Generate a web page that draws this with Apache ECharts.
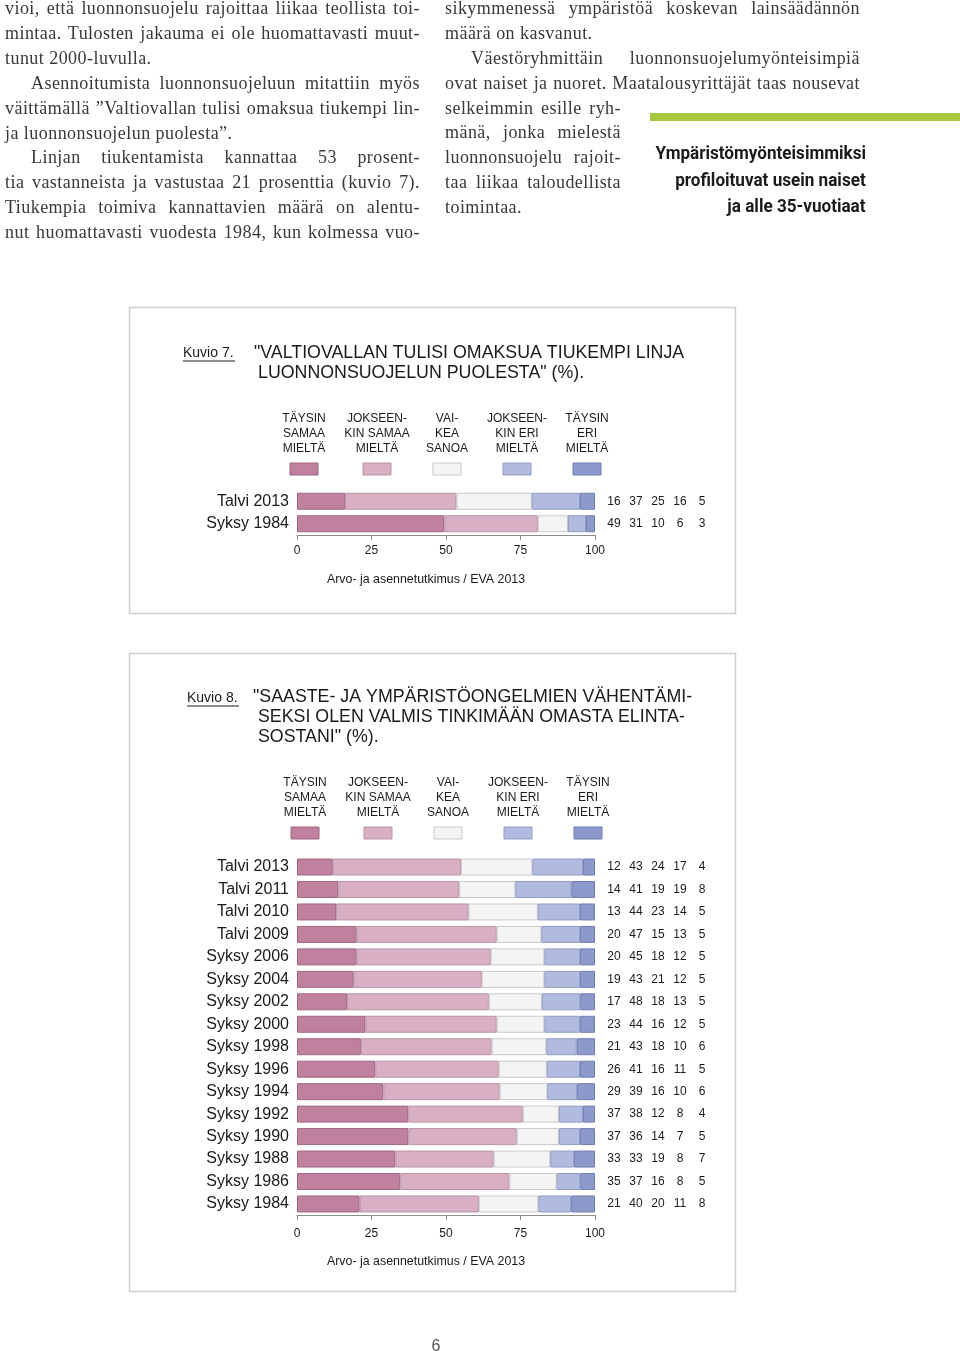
<!DOCTYPE html>
<html><head><meta charset="utf-8">
<script src="https://cdn.jsdelivr.net/npm/echarts@6/dist/echarts.min.js"></script>
<style>
html,body{margin:0;padding:0;background:#fff;}
#page{position:relative;width:960px;height:1351px;overflow:hidden;background:#fff;}
#chart{position:absolute;left:0;top:0;width:960px;height:1351px;}
.ln{position:absolute;height:25px;line-height:25px;font-family:"Liberation Serif","Times New Roman",serif;font-size:18px;letter-spacing:0.45px;color:#383838;white-space:nowrap;}
.j{text-align:justify;text-align-last:justify;white-space:normal;overflow:hidden;}
.pq{position:absolute;right:94px;height:26px;line-height:26px;font-family:Roboto,"Liberation Sans",Arial,sans-serif;font-weight:bold;font-size:19px;color:#1a1a1a;transform-origin:right center;transform:scaleX(0.9);white-space:nowrap;}
#green{position:absolute;left:650px;top:113px;width:310px;height:8px;background:#a6c940;}
#pnum{position:absolute;left:426px;width:20px;top:1337px;text-align:center;font-family:"Liberation Sans",Arial,sans-serif;font-size:16px;color:#555;}
</style></head>
<body>
<div id="page">
  <div id="chart"></div>
  <div id="prose"></div>
  <div id="green"></div>
  <div id="pnum">6</div>
</div>
<script>
// ---------- DATA ----------
const fig7Categories = ['Talvi 2013', 'Syksy 1984'];
const fig7TaysinSamaa     = [16, 49];
const fig7JokseenkinSamaa = [37, 31];
const fig7VaikeaSanoa     = [25, 10];
const fig7JokseenkinEri   = [16, 6];
const fig7TaysinEri       = [5, 3];

const fig8Categories = ['Talvi 2013','Talvi 2011','Talvi 2010','Talvi 2009','Syksy 2006','Syksy 2004','Syksy 2002','Syksy 2000','Syksy 1998','Syksy 1996','Syksy 1994','Syksy 1992','Syksy 1990','Syksy 1988','Syksy 1986','Syksy 1984'];
const fig8TaysinSamaa     = [12,14,13,20,20,19,17,23,21,26,29,37,37,33,35,21];
const fig8JokseenkinSamaa = [43,41,44,47,45,43,48,44,43,41,39,38,36,33,37,40];
const fig8VaikeaSanoa     = [24,19,23,15,18,21,18,16,18,16,16,12,14,19,16,20];
const fig8JokseenkinEri   = [17,19,14,13,12,12,13,12,10,11,10,8,7,8,8,11];
const fig8TaysinEri       = [4,8,5,5,5,5,5,5,6,5,6,4,5,7,5,8];

const seriesNames = ['Täysin samaa mieltä','Jokseenkin samaa mieltä','Vaikea sanoa','Jokseenkin eri mieltä','Täysin eri mieltä'];
const legendLabels = [
  ['TÄYSIN','SAMAA','MIELTÄ'],
  ['JOKSEEN-','KIN SAMAA','MIELTÄ'],
  ['VAI-','KEA','SANOA'],
  ['JOKSEEN-','KIN ERI','MIELTÄ'],
  ['TÄYSIN','ERI','MIELTÄ']
];
const axisTicks = [0, 25, 50, 75, 100];
const fig7Title = ['"VALTIOVALLAN TULISI OMAKSUA TIUKEMPI LINJA', 'LUONNONSUOJELUN PUOLESTA" (%).'];
const fig8Title = ['"SAASTE- JA YMPÄRISTÖONGELMIEN VÄHENTÄMI-', 'SEKSI OLEN VALMIS TINKIMÄÄN OMASTA ELINTA-', 'SOSTANI" (%).'];
const sourceText = 'Arvo- ja asennetutkimus / EVA 2013';

// ---------- PROSE ----------
const proseLines = [
  {x:5,   w:415, y:9,   j:1, t:'vioi, että luonnonsuojelu rajoittaa liikaa teollista toi-'},
  {x:5,   w:415, y:34,  j:1, t:'mintaa. Tulosten jakauma ei ole huomattavasti muut-'},
  {x:5,   w:415, y:59,  j:0, t:'tunut 2000-luvulla.'},
  {x:31,  w:389, y:84,  j:1, t:'Asennoitumista luonnonsuojeluun mitattiin myös'},
  {x:5,   w:415, y:109, j:1, t:'väittämällä ”Valtiovallan tulisi omaksua tiukempi lin-'},
  {x:5,   w:415, y:134, j:0, t:'ja luonnonsuojelun puolesta”.'},
  {x:31,  w:389, y:158, j:1, t:'Linjan tiukentamista kannattaa 53 prosent-'},
  {x:5,   w:415, y:183, j:1, t:'tia vastanneista ja vastustaa 21 prosenttia (kuvio 7).'},
  {x:5,   w:415, y:208, j:1, t:'Tiukempia toimiva kannattavien määrä on alentu-'},
  {x:5,   w:415, y:233, j:1, t:'nut huomattavasti vuodesta 1984, kun kolmessa vuo-'},
  {x:445, w:415, y:9,   j:1, t:'sikymmenessä ympäristöä koskevan lainsäädännön'},
  {x:445, w:415, y:34,  j:0, t:'määrä on kasvanut.'},
  {x:471, w:389, y:59,  j:1, t:'Väestöryhmittäin luonnonsuojelumyönteisimpiä'},
  {x:445, w:415, y:84,  j:1, t:'ovat naiset ja nuoret. Maatalousyrittäjät taas nousevat'},
  {x:445, w:176, y:109, j:1, t:'selkeimmin esille ryh-'},
  {x:445, w:176, y:133, j:1, t:'mänä, jonka mielestä'},
  {x:445, w:176, y:158, j:1, t:'luonnonsuojelu rajoit-'},
  {x:445, w:176, y:183, j:1, t:'taa liikaa taloudellista'},
  {x:445, w:176, y:208, j:0, t:'toimintaa.'}
];
const pullQuote = [
  {y:153, t:'Ympäristömyönteisimmiksi'},
  {y:180, t:'profiloituvat usein naiset'},
  {y:206, t:'ja alle 35-vuotiaat'}
];
const prose = document.getElementById('prose');
proseLines.forEach(l => {
  const d = document.createElement('div');
  d.className = 'ln' + (l.j ? ' j' : '');
  d.style.left = l.x + 'px';
  d.style.top = (l.y - 13) + 'px';
  d.style.width = l.w + 'px';
  d.textContent = l.t;
  prose.appendChild(d);
});
pullQuote.forEach(l => {
  const d = document.createElement('div');
  d.className = 'pq';
  d.style.top = (l.y - 13) + 'px';
  d.textContent = l.t;
  prose.appendChild(d);
});

// ---------- CHART ----------
const colors  = ['#c0819f', '#d9afc4', '#f4f4f4', '#b1badf', '#8e99cb'];
const borders = ['#9f6782', '#b994a6', '#c9c9c9', '#939cc4', '#717db3'];
const FONT = '"Liberation Sans", Arial, sans-serif';
const TXT = '#1a1a1a';

function buildSeries(cols, idx) {
  const n = cols[0].length;
  const sums = [];
  for (let r = 0; r < n; r++) { let s = 0; cols.forEach(c => s += c[r]); sums.push(s); }
  return cols.map((col, k) => ({
    type: 'bar', name: seriesNames[k], xAxisIndex: idx, yAxisIndex: idx, stack: 'fig' + idx,
    barWidth: 17, silent: true,
    data: col.map((v, r) => v * 100 / sums[r]),
    itemStyle: { color: colors[k], borderColor: borders[k], borderWidth: 1 },
    label: k === cols.length - 1 ? {
      show: true, position: 'right', distance: 8,
      formatter: p => cols.map(c => '{v|' + c[p.dataIndex] + '}').join(''),
      rich: { v: { width: 22, align: 'center', fontSize: 12, fontFamily: FONT, color: TXT } }
    } : { show: false }
  }));
}

function txt(x, y, text, size, align, extra) {
  return Object.assign({
    type: 'text', x: x, y: y, silent: true,
    style: { text: text, fontSize: size, fontFamily: FONT, fill: TXT,
      align: align, textAlign: align, verticalAlign: 'middle', textVerticalAlign: 'middle' }
  }, extra || {});
}

function legendGraphics(textY, swatchY, centers) {
  const g = [];
  legendLabels.forEach((lines, k) => {
    lines.forEach((s, i) => g.push(txt(centers[k], textY + i * 15, s, 12, 'center')));
    g.push({ type: 'rect', silent: true, shape: { x: centers[k] - 14, y: swatchY, width: 28, height: 12 },
      style: { fill: colors[k], stroke: borders[k], lineWidth: 1 } });
  });
  return g;
}

const graphics = [];
// panels
graphics.push({ type: 'rect', silent: true, z: -10, shape: { x: 129.5, y: 307.5, width: 606, height: 306 }, style: { fill: '#fff', stroke: '#cfcfcf', lineWidth: 1.5 } });
graphics.push({ type: 'rect', silent: true, z: -10, shape: { x: 129.5, y: 653.5, width: 606, height: 638 }, style: { fill: '#fff', stroke: '#cfcfcf', lineWidth: 1.5 } });
// fig 7 titles
graphics.push(txt(183, 353, 'Kuvio 7.', 14, 'left'));
graphics.push({ type: 'line', silent: true, shape: { x1: 183, y1: 361, x2: 235, y2: 361 }, style: { stroke: TXT, lineWidth: 1 } });
fig7Title.forEach((s, i) => graphics.push(txt(i === 0 ? 254 : 258, 353 + i * 20, s, 17.8, 'left')));
graphics.push(...legendGraphics(419, 463, [304, 377, 447, 517, 587]));
graphics.push(txt(426, 580, sourceText, 12.4, 'center'));
// fig 8 titles
graphics.push(txt(187, 698, 'Kuvio 8.', 14, 'left'));
graphics.push({ type: 'line', silent: true, shape: { x1: 187, y1: 706, x2: 239, y2: 706 }, style: { stroke: TXT, lineWidth: 1 } });
fig8Title.forEach((s, i) => graphics.push(txt(i === 0 ? 253 : 258, 697 + i * 20, s, 17.8, 'left')));
graphics.push(...legendGraphics(783, 827, [305, 378, 448, 518, 588]));
graphics.push(txt(426, 1262, sourceText, 12.4, 'center'));

function xAxisCfg(idx, margin) {
  return {
    type: 'value', gridIndex: idx,
    min: axisTicks[0], max: axisTicks[axisTicks.length - 1], interval: axisTicks[1] - axisTicks[0],
    splitLine: { show: false },
    axisLine: { show: true, lineStyle: { color: '#8c8c8c', width: 1 } },
    axisTick: { show: true, length: 5, lineStyle: { color: '#8c8c8c' } },
    axisLabel: { color: TXT, fontSize: 12, fontFamily: FONT, margin: margin }
  };
}
function yAxisCfg(idx, cats) {
  return {
    type: 'category', gridIndex: idx, data: cats, inverse: true,
    axisLine: { show: false }, axisTick: { show: false }, splitLine: { show: false },
    axisLabel: { color: TXT, fontSize: 16, fontFamily: FONT, margin: 8 }
  };
}

const chart = echarts.init(document.getElementById('chart'), null, { renderer: 'canvas' });
chart.setOption({
  animation: false,
  backgroundColor: 'transparent',
  grid: [
    { left: 297, top: 490, width: 298, height: 45 },
    { left: 297, top: 855.8, width: 298, height: 359.4 }
  ],
  xAxis: [xAxisCfg(0, 10), xAxisCfg(1, 12)],
  yAxis: [yAxisCfg(0, fig7Categories), yAxisCfg(1, fig8Categories)],
  series: [
    ...buildSeries([fig7TaysinSamaa, fig7JokseenkinSamaa, fig7VaikeaSanoa, fig7JokseenkinEri, fig7TaysinEri], 0),
    ...buildSeries([fig8TaysinSamaa, fig8JokseenkinSamaa, fig8VaikeaSanoa, fig8JokseenkinEri, fig8TaysinEri], 1)
  ],
  graphic: { elements: graphics }
});
</script>
</body></html>
